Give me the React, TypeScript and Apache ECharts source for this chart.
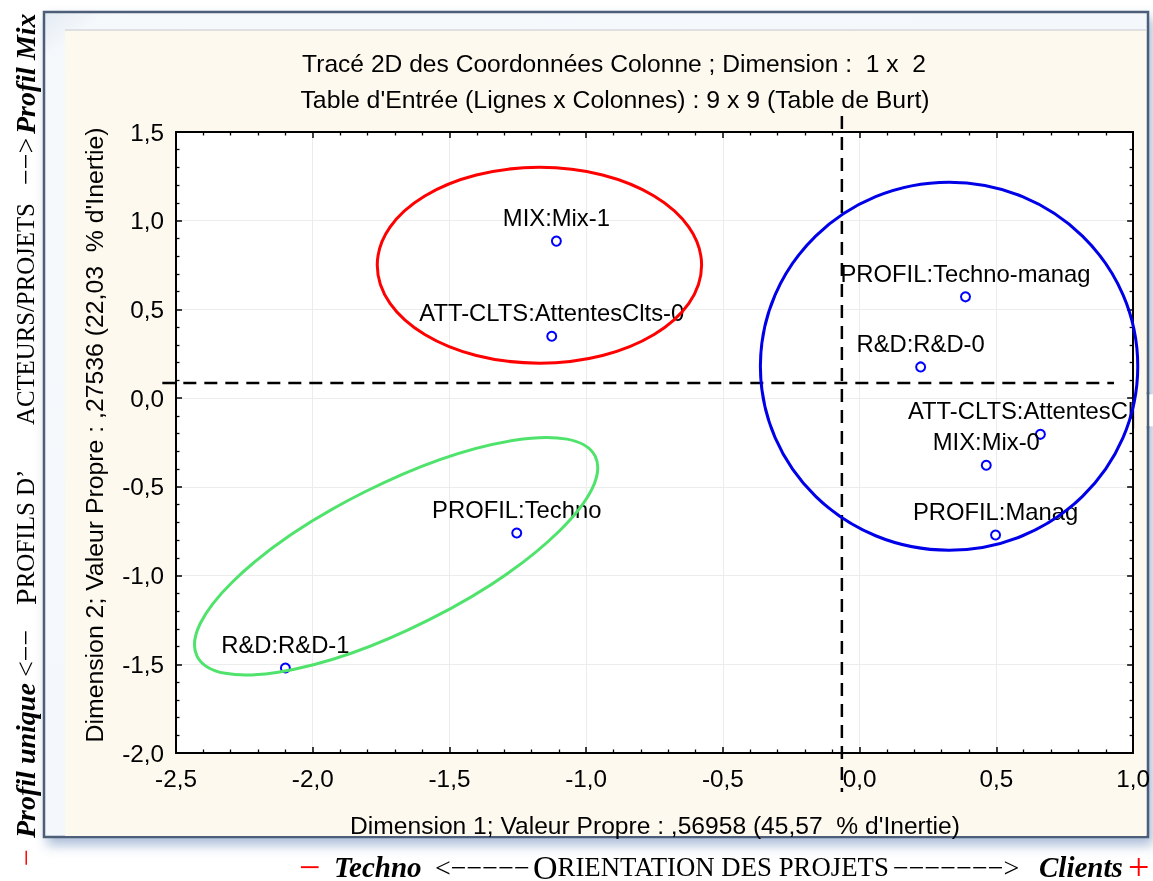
import React, { useEffect, useRef } from "react";
import * as echarts from "echarts";

// ---- data ----
const pointLabels = [
  "MIX:Mix-1",
  "ATT-CLTS:AttentesClts-0",
  "PROFIL:Techno-manag",
  "R&D:R&D-0",
  "ATT-CLTS:AttentesClts-1",
  "MIX:Mix-0",
  "PROFIL:Manag",
  "PROFIL:Techno",
  "R&D:R&D-1",
];
const dim1 = [-1.109, -1.126, 0.387, 0.223, 0.661, 0.463, 0.497, -1.254, -2.1];
const dim2 = [0.885, 0.349, 0.571, 0.176, -0.204, -0.378, -0.771, -0.76, -1.521];

const xTickValues = [-2.5, -2, -1.5, -1, -0.5, 0, 0.5, 1];
const xTickLabels = ["-2,5", "-2,0", "-1,5", "-1,0", "-0,5", "0,0", "0,5", "1,0"];
const yTickValues = [-2, -1.5, -1, -0.5, 0, 0.5, 1, 1.5];
const yTickLabels = ["-2,0", "-1,5", "-1,0", "-0,5", "0,0", "0,5", "1,0", "1,5"];

const titleLine1 = "Tracé 2D des Coordonnées Colonne ; Dimension :  1 x  2";
const titleLine2 = "Table d'Entrée (Lignes x Colonnes) : 9 x 9 (Table de Burt)";
const xAxisTitle = "Dimension 1; Valeur Propre : ,56958 (45,57  % d'Inertie)";
const yAxisTitle = "Dimension 2; Valeur Propre : ,27536 (22,03  % d'Inertie)";

// annotation reference lines (data units)
const crossX = -0.065;
const crossY = 0.086;
const vLineRange = [1.59, -2.22];
const hLineRange = [-2.55, 0.93];

// annotation ellipses (data units; radii in x-units / y-units)
const redEllipse = { cx: -1.171, cy: 0.749, rx: 0.593, ry: 0.552 };
const blueEllipse = { cx: 0.327, cy: 0.18, rx: 0.69, ry: 1.037 };
const greenEllipse = { cx: -1.695, cy: -0.891, a: 0.815, b: 0.262, angleDeg: 26.7 };

const SANS = "'Liberation Sans', Arial, Helvetica, sans-serif";
const SERIF = "'Liberation Serif', 'Times New Roman', serif";
const FS = 24.3;
const LABEL_FS = 23.8;

const pick = (vals: number[], labels: string[]) => (v: number) => {
  const i = vals.findIndex((t) => Math.abs(t - v) < 1e-6);
  return i >= 0 ? labels[i] : "";
};

const captionRich = {
  red: { fill: "#ff0000", fontSize: 30, fontFamily: SERIF },
  redBig: { fill: "#ff0000", fontSize: 38, fontFamily: SERIF },
  bi: { fill: "#000", fontSize: 28, fontFamily: SERIF, fontWeight: "bold", fontStyle: "italic" },
  bib: { fill: "#000", fontSize: 29, fontFamily: SERIF, fontWeight: "bold", fontStyle: "italic" },
  r: { fill: "#000", fontSize: 28, fontFamily: SERIF },
  big: { fill: "#000", fontSize: 30, fontFamily: SERIF },
  bigB: { fill: "#000", fontSize: 34, fontFamily: SERIF },
  sc: { fill: "#000", fontSize: 25, fontFamily: SERIF },
  sc24: { fill: "#000", fontSize: 24.8, fontFamily: SERIF },
  scB: { fill: "#000", fontSize: 26.8, fontFamily: SERIF },
};

// left caption pieces: [text, start y]
const leftCaption: [string, number][] = [
  ["{red|−}", 866],
  ["{bi|Profil unique}", 838],
  ["{r|<−−}", 677],
  ["{big|P}{sc|ROFILS D’}", 605],
  ["{sc24|ACTEURS/PROJETS}", 425],
  ["{r|−−>}", 185],
  ["{bi|Profil Mix}", 134],
];
// bottom caption pieces: [text, start x]
const bottomCaption: [string, number][] = [
  ["{redBig|−}", 299],
  ["{bib|Techno}", 334],
  ["{r|<−−−−−}", 435],
  ["{bigB|O}{scB|RIENTATION DES PROJETS}", 533],
  ["{r|−−−−−−−>}", 893],
  ["{bib|Clients}", 1039],
  ["{redBig|+}", 1128],
];

export default function App() {
  const ref = useRef<HTMLDivElement>(null);
  useEffect(() => {
    const chart = echarts.init(ref.current!, null, { renderer: "svg" });
    const axisLine = { show: true, onZero: false, lineStyle: { color: "#000", width: 2 } };
    const axisTick = { show: true, inside: true, length: 6, lineStyle: { color: "#000", width: 1.5 } };
    const minorTick = { show: true, splitNumber: 5, length: 3.5, lineStyle: { color: "#000", width: 1.3 } };
    const tickFont = { color: "#000", fontSize: FS, fontFamily: SANS };
    chart.setOption({
      animation: false,
      grid: { left: 176, top: 132, width: 960, height: 621, containLabel: false },
      xAxis: [
        {
          type: "value", min: -2.5, max: 1, interval: 0.5, position: "bottom",
          axisLine, axisTick, minorTick,
          axisLabel: { ...tickFont, margin: 13, formatter: pick(xTickValues, xTickLabels) },
          splitLine: { show: true, lineStyle: { color: "#ececec", width: 1 } },
        },
        {
          type: "value", min: -2.5, max: 1, interval: 0.5, position: "top",
          axisLine, axisTick, minorTick, axisLabel: { show: false }, splitLine: { show: false },
        },
      ],
      yAxis: [
        {
          type: "value", min: -2, max: 1.5, interval: 0.5, position: "left",
          axisLine, axisTick, minorTick,
          axisLabel: { ...tickFont, margin: 12, formatter: pick(yTickValues, yTickLabels) },
          splitLine: { show: true, lineStyle: { color: "#ececec", width: 1 } },
        },
        {
          type: "value", min: -2, max: 1.5, interval: 0.5, position: "right",
          axisLine, axisTick, minorTick, axisLabel: { show: false }, splitLine: { show: false },
        },
      ],
      series: [
        {
          type: "scatter",
          xAxisIndex: 0,
          yAxisIndex: 0,
          z: 5,
          data: dim1.map((x, i) => ({ value: [x, dim2[i]], name: pointLabels[i] })),
          symbol: "circle",
          symbolSize: 9,
          itemStyle: { color: "#fff", borderColor: "#0000ff", borderWidth: 2, opacity: 1 },
          label: {
            show: true, position: "top", distance: 6, formatter: "{b}",
            color: "#000", fontSize: LABEL_FS, fontFamily: SANS,
          },
          emphasis: { disabled: true },
        },
      ],
    });

    const P = (x: number, y: number) => chart.convertToPixel({ xAxisIndex: 0, yAxisIndex: 0 }, [x, y]) as number[];
    const o = P(0, 0);
    const pxX = P(1, 0)[0] - o[0];
    const pxY = o[1] - P(0, 1)[1];
    const tl = P(-2.5, 1.5);
    const br = P(1, -2);

    const rc = P(redEllipse.cx, redEllipse.cy);
    const bc = P(blueEllipse.cx, blueEllipse.cy);
    const gc = P(greenEllipse.cx, greenEllipse.cy);
    const vTop = P(crossX, vLineRange[0]);
    const vBot = P(crossX, vLineRange[1]);
    const hL = P(hLineRange[0], crossY);
    const hR = P(hLineRange[1], crossY);
    const labelRight = P(dim1[4], dim2[4]);

    const beige = "#fdf9ef";
    const frameStroke = "#4e5e78";

    const leftTexts = leftCaption.map(([t, y]) => ({
      type: "text", z: 10, x: 25, y, rotation: Math.PI / 2,
      style: { text: t, rich: captionRich, fontSize: 26, fontFamily: SERIF, fill: "#000", align: "left", verticalAlign: "middle" },
    }));
    const bottomTexts = bottomCaption.map(([t, x]) => ({
      type: "text", z: 10, x, y: 867,
      style: { text: t, rich: captionRich, fontSize: 28, fontFamily: SERIF, fill: "#000", align: "left", verticalAlign: "middle" },
    }));

    chart.setOption({
      graphic: [
        // outer frame with shadow
        {
          type: "rect", z: -20,
          shape: { x: 44, y: 12, width: 1104, height: 825 },
          style: {
            fill: new echarts.graphic.LinearGradient(0, 0, 1, 1, [
              { offset: 0, color: "#e3eaf3" },
              { offset: 0.03, color: "#f6f9fc" },
              { offset: 1, color: "#f3f6fa" },
            ]),
            stroke: frameStroke, lineWidth: 2.5,
            shadowBlur: 12, shadowColor: "rgba(70,110,170,0.45)", shadowOffsetX: 4, shadowOffsetY: 7,
          },
        },
        { type: "rect", z: -19, shape: { x: 65, y: 30, width: 1081, height: 806 }, style: { fill: beige } },
        { type: "line", z: -18, shape: { x1: 65, y1: 30, x2: 1146, y2: 30 }, style: { stroke: "#c4c8d0", lineWidth: 1 } },
        // plot background
        {
          type: "rect", z: -15,
          shape: { x: tl[0], y: tl[1], width: br[0] - tl[0], height: br[1] - tl[1] },
          style: { fill: "#ffffff" },
        },
        // titles
        {
          type: "text", z: 10, x: 614, y: 63,
          style: { text: titleLine1, fontSize: 24.6, fontFamily: SANS, fill: "#000", align: "center", verticalAlign: "middle" },
        },
        {
          type: "text", z: 10, x: 615, y: 99,
          style: { text: titleLine2, fontSize: 24.8, fontFamily: SANS, fill: "#000", align: "center", verticalAlign: "middle" },
        },
        {
          type: "text", z: 10, x: 655, y: 825,
          style: { text: xAxisTitle, fontSize: 24.6, fontFamily: SANS, fill: "#000", align: "center", verticalAlign: "middle" },
        },
        {
          type: "text", z: 10, x: 94, y: 435, rotation: Math.PI / 2,
          style: { text: yAxisTitle, fontSize: 24.8, fontFamily: SANS, fill: "#000", align: "center", verticalAlign: "middle" },
        },
        // mask for the label that runs past the right edge of the plot
        {
          type: "rect", z: 50,
          shape: { x: br[0] + 1, y: labelRight[1] - 40, width: 1146 - br[0] - 1, height: 32 },
          style: { fill: beige },
        },
        {
          type: "rect", z: 50,
          shape: { x: 1146, y: labelRight[1] - 40, width: 10, height: 32 },
          style: { fill: "#ffffff" },
        },
        {
          type: "line", z: 51,
          shape: { x1: 1148, y1: labelRight[1] - 42, x2: 1148, y2: labelRight[1] - 6 },
          style: { stroke: frameStroke, lineWidth: 2.5 },
        },
        {
          type: "line", z: 51,
          shape: { x1: br[0], y1: labelRight[1] - 42, x2: br[0], y2: labelRight[1] - 6 },
          style: { stroke: "#000", lineWidth: 2 },
        },
        ...leftTexts,
        ...bottomTexts,
        // dashed reference lines
        {
          type: "line", z: 100,
          shape: { x1: vTop[0], y1: vTop[1], x2: vBot[0], y2: vBot[1] },
          style: { stroke: "#000", lineWidth: 2.5, lineDash: [13, 8] },
        },
        {
          type: "line", z: 100,
          shape: { x1: hL[0], y1: hL[1], x2: hR[0], y2: hR[1] },
          style: { stroke: "#000", lineWidth: 2.5, lineDash: [13, 8] },
        },
        // ellipses
        {
          type: "ellipse", z: 100,
          shape: { cx: rc[0], cy: rc[1], rx: redEllipse.rx * pxX, ry: redEllipse.ry * pxY },
          style: { fill: "none", stroke: "#ff0000", lineWidth: 3 },
        },
        {
          type: "ellipse", z: 100,
          shape: { cx: bc[0], cy: bc[1], rx: blueEllipse.rx * pxX, ry: blueEllipse.ry * pxY },
          style: { fill: "none", stroke: "#0000e8", lineWidth: 3 },
        },
        {
          type: "ellipse", z: 100,
          x: gc[0], y: gc[1], rotation: (greenEllipse.angleDeg * Math.PI) / 180,
          shape: { cx: 0, cy: 0, rx: greenEllipse.a * pxX, ry: greenEllipse.b * pxX },
          style: { fill: "none", stroke: "#4fe36c", lineWidth: 3 },
        },
      ],
    });

    return () => chart.dispose();
  }, []);
  return <div ref={ref} style={{ position: "fixed", left: 0, top: 0, width: 1153, height: 881 }} />;
}
